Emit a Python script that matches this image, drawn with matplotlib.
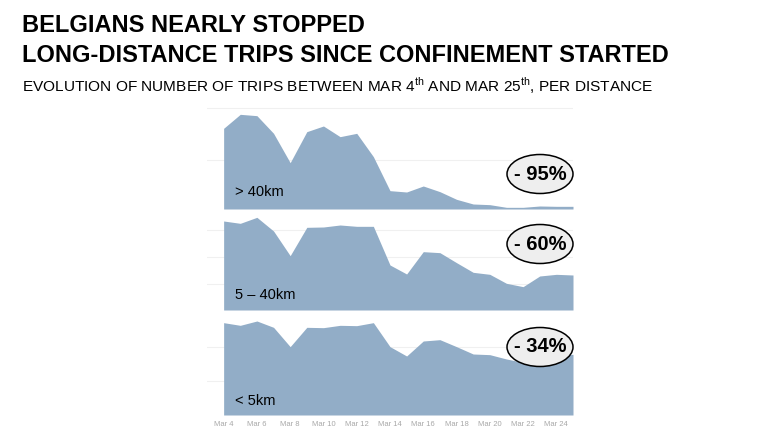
import matplotlib.pyplot as plt
from matplotlib.patches import Ellipse

plt.rcParams['font.family'] = ['Liberation Sans', 'DejaVu Sans']
plt.rcParams['mathtext.fontset'] = 'custom'
plt.rcParams['mathtext.rm'] = 'Liberation Sans'

# days from Mar 4 to Mar 25
days = list(range(4, 26))
tick_days = list(range(4, 25, 2))
tick_labels = ["Mar %d" % d for d in tick_days]

# number of trips (relative units)
far = [242, 284, 280, 227, 139, 232, 249, 217, 227, 157, 55,
       51, 69, 52, 29, 15, 13, 5, 5, 9, 8, 8]
mid = [267, 260, 278, 237, 163, 248, 249, 255, 251, 251, 135,
       108, 175, 172, 142, 113, 107, 80, 70, 102, 107, 105]
near = [277, 269, 282, 263, 205, 263, 262, 269, 268, 277, 205,
        177, 222, 226, 205, 183, 181, 168, 158, 172, 180, 182]

labels = ["> 40km", "5 \u2013 40km", "< 5km"]
drops = ["- 95%", "- 60%", "- 34%"]

fill_col = "#92adc7"

fig = plt.figure(figsize=(7.8, 4.33), dpi=100)

fig.text(22/780, 1 - 26/433, "BELGIANS NEARLY STOPPED", fontsize=17,
         fontweight="bold", va="center")
fig.text(22/780, 1 - 56/433, "LONG-DISTANCE TRIPS SINCE CONFINEMENT STARTED",
         fontsize=17, fontweight="bold", va="center")
fig.text(22/780, 1 - 86/433,
         r"EVOLUTION OF NUMBER OF TRIPS BETWEEN MAR 4$^{\mathrm{th}}$ AND MAR 25$^{\mathrm{th}}$, PER DISTANCE",
         fontsize=11.1, va="center")

# panel boxes in pixels: (top, bottom), ylim top, gridlines
panels = [(106, 209, 309, [147, 302]),
          (211, 310, 297, [78, 160, 240]),
          (313, 415, 306, [103, 205])]
series = [far, mid, near]
badge_y = [174, 244, 347]
label_y = [192, 295, 401]

x = [d - 4 for d in days]
left = 207/780
width = 366/780

for i, (top, bot, ytop, grid) in enumerate(panels):
    ax = fig.add_axes([left, 1 - bot/433, width, (bot - top)/433])
    ax.fill_between(x, series[i], 0, color=fill_col, lw=0)
    ax.set_xlim(-1, 21)
    ax.set_ylim(0, ytop)
    for g in grid:
        ax.axhline(g, color="#f0f0f0", lw=0.8, zorder=0)
    for s in ax.spines.values():
        s.set_visible(False)
    ax.set_yticks([])
    if i == 2:
        ax.set_xticks([d - 4 for d in tick_days])
        ax.set_xticklabels(tick_labels, fontsize=5.5, color="#a8a8a8")
        ax.tick_params(axis="x", length=0, pad=4)
    else:
        ax.set_xticks([])

    fig.text(235/780, 1 - label_y[i]/433, labels[i], fontsize=10.5,
             va="center", ha="left")

    e = Ellipse((540/780, 1 - badge_y[i]/433), 66/780, 39/433,
                transform=fig.transFigure, facecolor="#eeeeee",
                edgecolor="black", lw=1.1, zorder=5)
    fig.patches.append(e)
    fig.text(540/780, 1 - badge_y[i]/433, drops[i], fontsize=14.5,
             fontweight="bold", ha="center", va="center", zorder=6)

fig.savefig("out.png", dpi=100)
